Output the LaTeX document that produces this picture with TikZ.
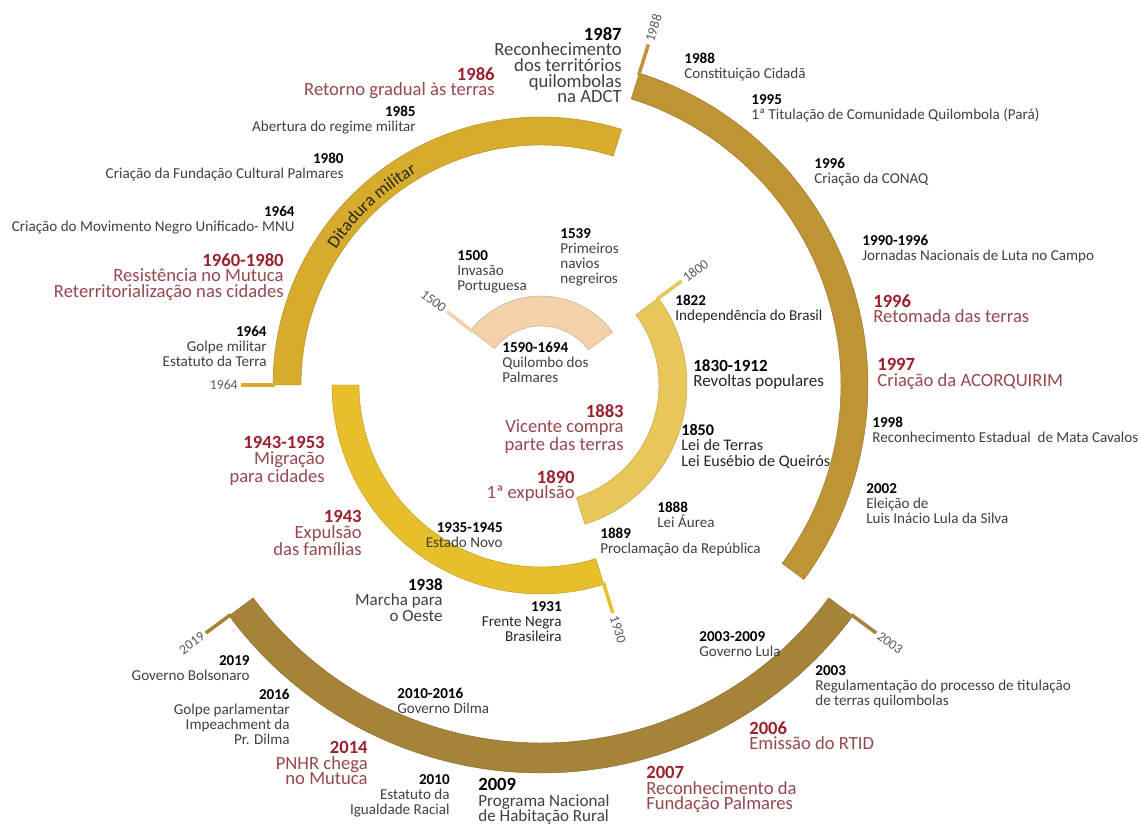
\documentclass[tikz,border=0pt]{standalone}
\usepackage{fontspec}
\setmainfont{Carlito}
\usetikzlibrary{calc, decorations.text}
\definecolor{ringzero}{RGB}{243,210,170}
\definecolor{ringone}{RGB}{232,198,88}
\definecolor{ringtwo}{RGB}{231,191,42}
\definecolor{ringthree}{RGB}{215,171,44}
\definecolor{ringfour}{RGB}{190,148,52}
\definecolor{ringfive}{RGB}{166,131,56}
\definecolor{yearred}{RGB}{155,32,45}
\definecolor{textred}{RGB}{150,72,80}
\definecolor{textgray}{RGB}{64,64,64}
\definecolor{tickgray}{RGB}{90,90,90}
\newcommand{\evyear}[1]{{\bfseries\color{black}#1}}
\newcommand{\evbigyear}[1]{{\fontsize{10.6}{9}\selectfont\bfseries\color{black}#1}}
\newcommand{\evredyear}[1]{{\bfseries\color{yearred}#1}}

\begin{document}
\begin{tikzpicture}[
    x=0.02cm, y=0.02cm,
    band/.style={fill=#1, draw=#1!80!black, line width=0.25pt},
    tickline/.style={draw=#1, line width=2pt},
    ticklabel/.style={inner sep=0, text=tickgray, font=\fontsize{7.8}{8}\selectfont},
    event/.style={inner sep=0, text=textgray, font=\fontsize{8.6}{8.6}\selectfont},
    eventl/.style={event, anchor=north west, align=left},
    eventr/.style={event, anchor=north east, align=right},
    midfont/.style={font=\fontsize{9.7}{8.8}\selectfont},
    bigfont/.style={font=\fontsize{10.6}{8.9}\selectfont},
    highlight/.style={bigfont, text=textred},
    darktext/.style={text=black!85}
]
    \fill[white] (0,0) rectangle (1140,825);
    \useasboundingbox (0,0) rectangle (1140,825);
    \coordinate (c) at (541,440);

    % Spiral bands
    \filldraw[band=ringzero] ($(c)+(142:89)$) arc[start angle=142, end angle=36.5, radius=89]
        -- ($(c)+(36.5:59)$) arc[start angle=36.5, end angle=142, radius=59] -- cycle;
    \filldraw[band=ringone] ($(c)+(36.5:146)$) arc[start angle=36.5, end angle=-72.5, radius=146]
        -- ($(c)+(-72.5:118)$) arc[start angle=-72.5, end angle=36.5, radius=118] -- cycle;
    \filldraw[band=ringtwo] ($(c)+(-72.5:209)$) arc[start angle=-72.5, end angle=-180, radius=209]
        -- ($(c)+(-180:182)$) arc[start angle=-180, end angle=-72.5, radius=182] -- cycle;
    \filldraw[band=ringthree] ($(c)+(180:268)$) arc[start angle=180, end angle=72.5, radius=268]
        -- ($(c)+(72.5:240)$) arc[start angle=72.5, end angle=180, radius=240] -- cycle;
    \filldraw[band=ringfour] ($(c)+(72.5:327)$) arc[start angle=72.5, end angle=-36.5, radius=327]
        -- ($(c)+(-36.5:300)$) arc[start angle=-36.5, end angle=72.5, radius=300] -- cycle;
    \filldraw[band=ringfive] ($(c)+(-36.5:388)$) arc[start angle=-36.5, end angle=-143.5, radius=388]
        -- ($(c)+(-143.5:358)$) arc[start angle=-143.5, end angle=-36.5, radius=358] -- cycle;

    \path[decorate, decoration={text along path, text align=left,
        text={|\fontsize{10}{10}\selectfont\color{black!85}|Ditadura militar}}]
        ($(c)+(146.5:246)$) arc[start angle=146.5, end angle=108, radius=246];

    % Year ticks
    \draw[tickline=ringzero] ($(c)+(142:87)$) -- ($(c)+(142:119)$);
    \draw[tickline=ringone] ($(c)+(36.5:144)$) -- ($(c)+(36.5:175)$);
    \draw[tickline=ringtwo] ($(c)+(-72.5:207)$) -- ($(c)+(-72.5:239)$);
    \draw[tickline=ringthree] ($(c)+(180:266)$) -- ($(c)+(180:300)$);
    \draw[tickline=ringfour] ($(c)+(72.5:325)$) -- ($(c)+(72.5:357)$);
    \draw[tickline=ringfive] ($(c)+(-36.5:386)$) -- ($(c)+(-36.5:417)$);
    \draw[tickline=ringfive] ($(c)+(-143.5:386)$) -- ($(c)+(-143.5:417)$);

    \node[ticklabel, anchor=east, rotate=-38] (t1500) at ($(c)+(142:122)$) {1500};
    \node[ticklabel, anchor=west, rotate=36.5] (t1800) at ($(c)+(36.5:178)$) {1800};
    \node[ticklabel, anchor=west, rotate=-72.5] (t1930) at ($(c)+(-72.5:242)$) {1930};
    \node[ticklabel, anchor=east] (t1964) at ($(c)+(180:303)$) {1964};
    \node[ticklabel, anchor=west, rotate=72.5] (t1988) at ($(c)+(72.5:360)$) {1988};
    \node[ticklabel, anchor=west, rotate=-36.5] (t2003) at ($(c)+(-36.5:420)$) {2003};
    \node[ticklabel, anchor=east, rotate=36.5] (t2019) at ($(c)+(-143.5:420)$) {2019};

    % Inner events
    \node[eventl] (e1500) at (457,575) {\evyear{1500}\\Invasão\\Portuguesa};
    \node[eventl] (e1539) at (560,597) {\evyear{1539}\\Primeiros\\navios\\negreiros};
    \node[eventl] (e1590) at (502,483) {\evyear{1590-1694}\\Quilombo dos\\Palmares};
    \node[eventr, highlight] (e1883) at (624,421) {\evredyear{1883}\\Vicente compra\\parte das terras};
    \node[eventr, highlight] (e1890) at (575,355) {\evredyear{1890}\\1ª expulsão};

    % Second ring
    \node[eventl, darktext] (e1822) at (675,530) {\evyear{1822}\\Independência do Brasil};
    \node[eventl, midfont, darktext] (e1830) at (693,466) {\evyear{1830-1912}\\Revoltas populares};
    \node[eventl, darktext, font=\fontsize{9.2}{8.7}\selectfont] (e1850) at (681,401) {\evyear{1850}\\Lei de Terras\\Lei Eusébio de Queirós};
    \node[eventl] (e1888) at (657,323) {\evyear{1888}\\Lei Áurea};
    \node[eventl] (e1889) at (600,297) {\evyear{1889}\\Proclamação da República};

    % Third ring
    \node[eventr, darktext] (e1931) at (562,224) {\evyear{1931}\\Frente Negra\\Brasileira};
    \node[eventr, midfont] (e1938) at (443,247) {\evyear{1938}\\Marcha para\\o Oeste};
    \node[eventr] (e1935) at (503,303) {\evyear{1935-1945}\\Estado Novo};
    \node[eventr, highlight] (e1943) at (362,315) {\evredyear{1943}\\Expulsão\\das famílias};
    \node[eventr, highlight] (e1943b) at (325,389) {\evredyear{1943-1953}\\Migração\\para cidades};

    % Fourth ring
    \node[eventr] (e1964) at (267,499) {\evyear{1964}\\Golpe militar\\Estatuto da Terra};
    \node[eventr, highlight] (e1960) at (284,572) {\evredyear{1960-1980}\\Resistência no Mutuca\\Reterritorialização nas cidades};
    \node[eventr] (e1964b) at (295,619) {\evyear{1964}\\Criação do Movimento Negro Unificado- MNU};
    \node[eventr] (e1980) at (344,672) {\evyear{1980}\\Criação da Fundação Cultural Palmares};
    \node[eventr] (e1985) at (416,719) {\evyear{1985}\\Abertura do regime militar};
    \node[eventr, highlight] (e1986) at (495,758) {\evredyear{1986}\\Retorno gradual às terras};
    \node[eventr, bigfont] (e1987) at (622,798) {\evyear{1987}\\Reconhecimento\\dos territórios\\quilombolas\\na ADCT};

    % Fifth ring
    \node[eventl] (e1988) at (684,772) {\evyear{1988}\\Constituição Cidadã};
    \node[eventl] (e1995) at (751,731) {\evyear{1995}\\1ª Titulação de Comunidade Quilombola (Pará)};
    \node[eventl] (e1996) at (814,667) {\evyear{1996}\\Criação da CONAQ};
    \node[eventl] (e1990) at (862,590) {\evyear{1990-1996}\\Jornadas Nacionais de Luta no Campo};
    \node[eventl, highlight] (e1996b) at (873,531) {\evredyear{1996}\\Retomada das terras};
    \node[eventl, highlight] (e1997) at (877,467) {\evredyear{1997}\\Criação da ACORQUIRIM};
    \node[eventl] (e1998) at (872,408) {\evyear{1998}\\Reconhecimento Estadual\ \ de Mata Cavalos};
    \node[eventl] (e2002) at (866,342) {\evyear{2002}\\Eleição de\\Luis Inácio Lula da Silva};

    % Outer ring
    \node[eventl] (e2003) at (699,194) {\evyear{2003-2009}\\Governo Lula};
    \node[eventl] (e2003b) at (815,160) {\evyear{2003}\\Regulamentação do processo de titulação\\de terras quilombolas};
    \node[eventl, highlight] (e2006) at (749,104) {\evredyear{2006}\\Emissão do RTID};
    \node[eventl, highlight] (e2007) at (646,59) {\evredyear{2007}\\Reconhecimento da\\Fundação Palmares};
    \node[eventl, midfont] (e2009) at (478,47) {\evbigyear{2009}\\Programa Nacional\\de Habitação Rural};
    \node[eventl] (e2010) at (397,137) {\evyear{2010-2016}\\Governo Dilma};
    \node[eventr] (e2010b) at (450,51) {\evyear{2010}\\Estatuto da\\Igualdade Racial};
    \node[eventr, highlight] (e2014) at (368,84) {\evredyear{2014}\\PNHR chega\\no Mutuca};
    \node[eventr] (e2016) at (290,136) {\evyear{2016}\\Golpe parlamentar\\Impeachment da\\Pr. Dilma};
    \node[eventr] (e2019) at (250,170) {\evyear{2019}\\Governo Bolsonaro};
\end{tikzpicture}
\end{document}
